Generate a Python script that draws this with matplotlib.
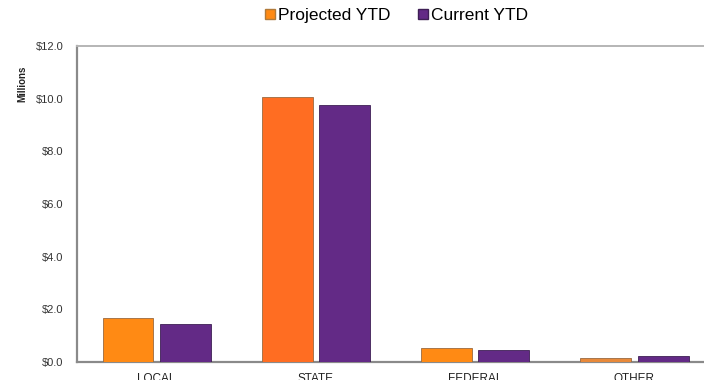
import numpy as np
import matplotlib.pyplot as plt
from matplotlib.lines import Line2D

plt.rcParams['font.family'] = ['Liberation Sans', 'DejaVu Sans']

# revenue by source, in millions of dollars
categories = ["LOCAL", "STATE", "FEDERAL", "OTHER"]
projected_ytd = [1.67, 10.06, 0.53, 0.15]
current_ytd = [1.44, 9.76, 0.47, 0.21]
y_ticks = [0, 2, 4, 6, 8, 10, 12]

orange_shades = ["#FF8A14", "#FF6D22", "#FF8A14", "#E8893A"]
purple = "#632A86"

fig = plt.figure(figsize=(7.04, 3.80), dpi=100)
ax = fig.add_axes([0.1094, 0.0474, 0.905, 0.8316])

x = np.arange(len(categories))
w = 0.32
gap = 0.04
ax.bar(x - (w + gap) / 2, projected_ytd, w, color=orange_shades,
       edgecolor="#9A6A40", linewidth=0.6, zorder=3)
ax.bar(x + (w + gap) / 2, current_ytd, w, color=purple,
       edgecolor="#3E1F55", linewidth=0.6, zorder=3)

ax.set_xlim(-0.5, 3.5)
ax.set_ylim(0, 12)
ax.set_yticks(y_ticks)
ax.set_yticklabels([f"${v:.1f}" for v in y_ticks], fontsize=8, color="#333333")
ax.set_xticks(x)
ax.set_xticklabels(categories, fontsize=8.5, color="#222222")
ax.tick_params(axis="y", length=0, pad=10)
ax.tick_params(axis="x", length=0, pad=8)

for side in ["left", "bottom"]:
    ax.spines[side].set_color("#8A8A8A")
    ax.spines[side].set_linewidth(1.6)
for side in ["top", "right"]:
    ax.spines[side].set_color("#B5B5B5")
    ax.spines[side].set_linewidth(1.4)

fig.text(0.032, 0.78, "Millions", rotation=90, fontsize=7, fontweight="bold",
         ha="center", va="center", color="#222222")

handles = [
    Line2D([], [], marker="s", linestyle="none", markersize=7,
           markerfacecolor="#FF8A14", markeredgecolor="#B07A3A"),
    Line2D([], [], marker="s", linestyle="none", markersize=7,
           markerfacecolor=purple, markeredgecolor="#3E1F55"),
]
fig.legend(handles, ["Projected YTD", "Current YTD"], loc="center",
           bbox_to_anchor=(0.562, 0.96), ncol=2, frameon=False, fontsize=12.5,
           handletextpad=0.05, columnspacing=1.5, handlelength=0.8)

fig.savefig("out.png", dpi=100)
